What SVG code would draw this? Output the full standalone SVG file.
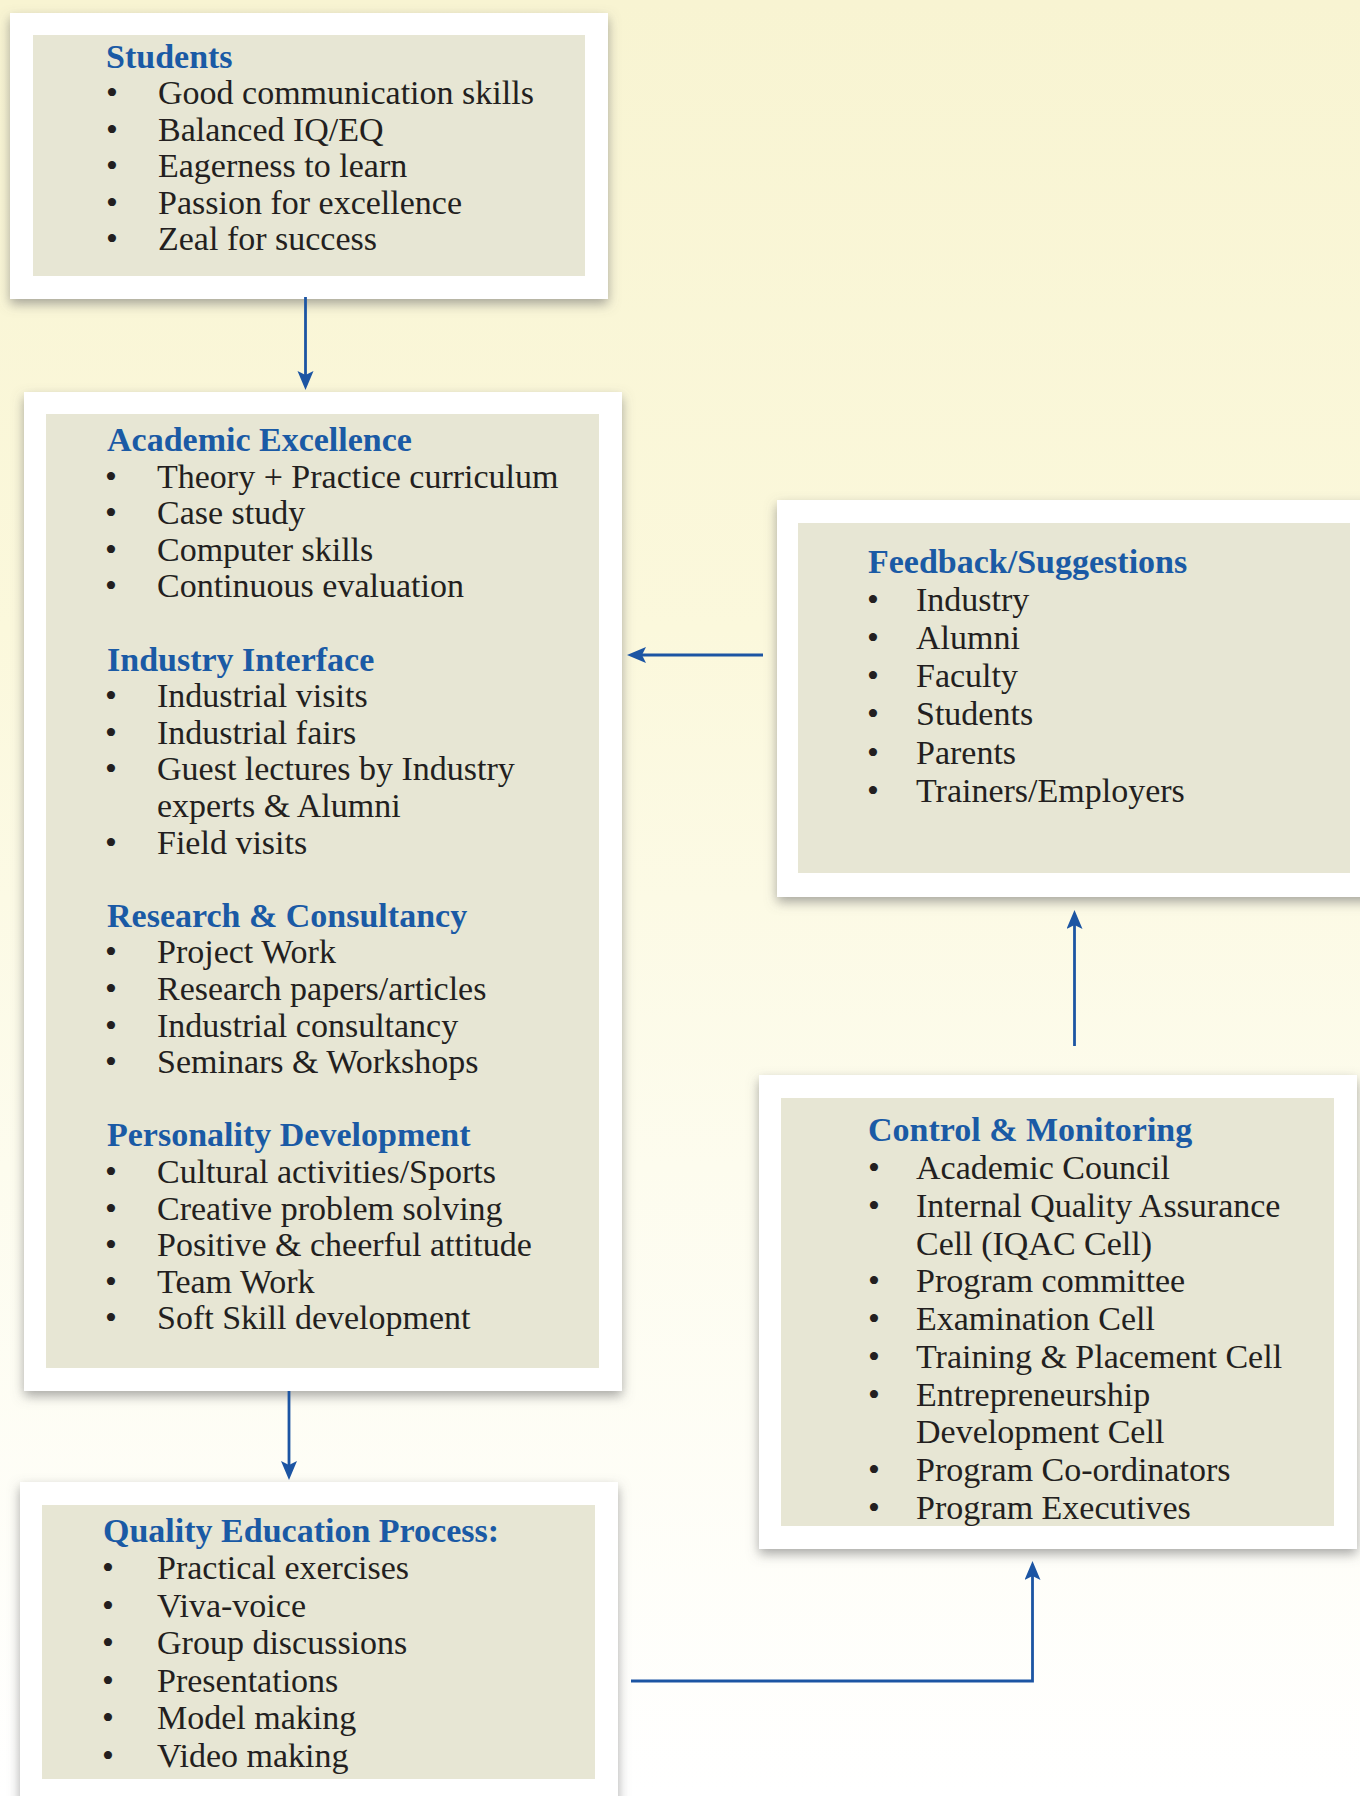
<svg xmlns="http://www.w3.org/2000/svg" width="1360" height="1796" viewBox="0 0 1360 1796">
<defs>
<linearGradient id="bg" x1="0" y1="0" x2="0" y2="1">
<stop offset="0" stop-color="#f8f4d2"/>
<stop offset="0.35" stop-color="#fbf8dc"/>
<stop offset="0.65" stop-color="#fdfcee"/>
<stop offset="1" stop-color="#ffffff"/>
</linearGradient>
<filter id="shadow" x="-10%" y="-10%" width="120%" height="125%">
<feGaussianBlur in="SourceAlpha" stdDeviation="6"/>
<feOffset dx="0" dy="5" result="b"/>
<feFlood flood-color="#6e6e6e" flood-opacity="0.6"/>
<feComposite in2="b" operator="in"/>
<feMerge><feMergeNode/><feMergeNode in="SourceGraphic"/></feMerge>
</filter>
<marker id="arrow" markerUnits="userSpaceOnUse" markerWidth="20" markerHeight="18" refX="11" refY="8" orient="auto">
<path d="M0,0 L19,8 L0,16 L4,8 Z" fill="#1c55a3"/>
</marker>
</defs>
<style>
.outer{fill:#ffffff;filter:url(#shadow)}
.inner{fill:#e7e6d4}
text{font-family:"Liberation Serif","Times New Roman",serif;font-size:34px;fill:#231f20}
.title{font-weight:bold;fill:#1a5aa5}
.b{text-anchor:middle}
.conn{fill:none;stroke:#1c55a3;stroke-width:2.8;marker-end:url(#arrow)}
</style>
<rect x="0" y="0" width="1360" height="1796" fill="url(#bg)"/>

<g id="students">
<rect class="outer" x="10" y="13" width="598" height="286"/>
<rect class="inner" x="33" y="35" width="552" height="241"/>
<text class="title" x="106" y="68">Students</text>
<text class="b" x="112" y="104">•</text><text x="158" y="104">Good communication skills</text>
<text class="b" x="112" y="140.5">•</text><text x="158" y="140.5">Balanced IQ/EQ</text>
<text class="b" x="112" y="177">•</text><text x="158" y="177">Eagerness to learn</text>
<text class="b" x="112" y="213.5">•</text><text x="158" y="213.5">Passion for excellence</text>
<text class="b" x="112" y="250">•</text><text x="158" y="250">Zeal for success</text>
</g>

<g id="academic">
<rect class="outer" x="24" y="392" width="598" height="999"/>
<rect class="inner" x="46" y="414" width="553" height="954"/>
<text class="title" x="107" y="451">Academic Excellence</text>
<text class="b" x="111" y="487.6">•</text><text x="157" y="487.6">Theory + Practice curriculum</text>
<text class="b" x="111" y="524.2">•</text><text x="157" y="524.2">Case study</text>
<text class="b" x="111" y="560.8">•</text><text x="157" y="560.8">Computer skills</text>
<text class="b" x="111" y="597.4">•</text><text x="157" y="597.4">Continuous evaluation</text>
<text class="title" x="107" y="670.6">Industry Interface</text>
<text class="b" x="111" y="707.2">•</text><text x="157" y="707.2">Industrial visits</text>
<text class="b" x="111" y="743.8">•</text><text x="157" y="743.8">Industrial fairs</text>
<text class="b" x="111" y="780.4">•</text><text x="157" y="780.4">Guest lectures by Industry</text>
<text x="157" y="817">experts &amp; Alumni</text>
<text class="b" x="111" y="853.6">•</text><text x="157" y="853.6">Field visits</text>
<text class="title" x="107" y="926.8">Research &amp; Consultancy</text>
<text class="b" x="111" y="963.4">•</text><text x="157" y="963.4">Project Work</text>
<text class="b" x="111" y="1000">•</text><text x="157" y="1000">Research papers/articles</text>
<text class="b" x="111" y="1036.6">•</text><text x="157" y="1036.6">Industrial consultancy</text>
<text class="b" x="111" y="1073.2">•</text><text x="157" y="1073.2">Seminars &amp; Workshops</text>
<text class="title" x="107" y="1146.4">Personality Development</text>
<text class="b" x="111" y="1183">•</text><text x="157" y="1183">Cultural activities/Sports</text>
<text class="b" x="111" y="1219.6">•</text><text x="157" y="1219.6">Creative problem solving</text>
<text class="b" x="111" y="1256.2">•</text><text x="157" y="1256.2">Positive &amp; cheerful attitude</text>
<text class="b" x="111" y="1292.8">•</text><text x="157" y="1292.8">Team Work</text>
<text class="b" x="111" y="1329.4">•</text><text x="157" y="1329.4">Soft Skill development</text>
</g>

<g id="feedback">
<rect class="outer" x="777" y="500" width="600" height="397"/>
<rect class="inner" x="798" y="523" width="552" height="350"/>
<text class="title" x="868" y="573">Feedback/Suggestions</text>
<text class="b" x="873" y="610.5">•</text><text x="916" y="610.5">Industry</text>
<text class="b" x="873" y="648.8">•</text><text x="916" y="648.8">Alumni</text>
<text class="b" x="873" y="687.1">•</text><text x="916" y="687.1">Faculty</text>
<text class="b" x="873" y="725.4">•</text><text x="916" y="725.4">Students</text>
<text class="b" x="873" y="763.7">•</text><text x="916" y="763.7">Parents</text>
<text class="b" x="873" y="802">•</text><text x="916" y="802">Trainers/Employers</text>
</g>

<g id="control">
<rect class="outer" x="759" y="1075" width="598" height="474"/>
<rect class="inner" x="781" y="1098" width="553" height="428"/>
<text class="title" x="868" y="1141">Control &amp; Monitoring</text>
<text class="b" x="874" y="1179">•</text><text x="916" y="1179">Academic Council</text>
<text class="b" x="874" y="1216.75">•</text><text x="916" y="1216.75">Internal Quality Assurance</text>
<text x="916" y="1254.5">Cell (IQAC Cell)</text>
<text class="b" x="874" y="1292.25">•</text><text x="916" y="1292.25">Program committee</text>
<text class="b" x="874" y="1330">•</text><text x="916" y="1330">Examination Cell</text>
<text class="b" x="874" y="1367.75">•</text><text x="916" y="1367.75">Training &amp; Placement Cell</text>
<text class="b" x="874" y="1405.5">•</text><text x="916" y="1405.5">Entrepreneurship</text>
<text x="916" y="1443.25">Development Cell</text>
<text class="b" x="874" y="1481">•</text><text x="916" y="1481">Program Co-ordinators</text>
<text class="b" x="874" y="1518.75">•</text><text x="916" y="1518.75">Program Executives</text>
</g>

<g id="quality">
<rect class="outer" x="20" y="1482" width="598" height="340"/>
<rect class="inner" x="42" y="1505" width="553" height="274"/>
<text class="title" x="103" y="1542">Quality Education Process:</text>
<text class="b" x="108" y="1579">•</text><text x="157" y="1579">Practical exercises</text>
<text class="b" x="108" y="1616.6">•</text><text x="157" y="1616.6">Viva-voice</text>
<text class="b" x="108" y="1654.2">•</text><text x="157" y="1654.2">Group discussions</text>
<text class="b" x="108" y="1691.8">•</text><text x="157" y="1691.8">Presentations</text>
<text class="b" x="108" y="1729.4">•</text><text x="157" y="1729.4">Model making</text>
<text class="b" x="108" y="1767">•</text><text x="157" y="1767">Video making</text>
</g>

<g id="connectors">
<path class="conn" d="M305.5,297 V382"/>
<path class="conn" d="M763,655 H635"/>
<path class="conn" d="M289,1391 V1472"/>
<path class="conn" d="M631,1681 H1032.5 V1569"/>
<path class="conn" d="M1074.5,1046 V918"/>
</g>
</svg>
